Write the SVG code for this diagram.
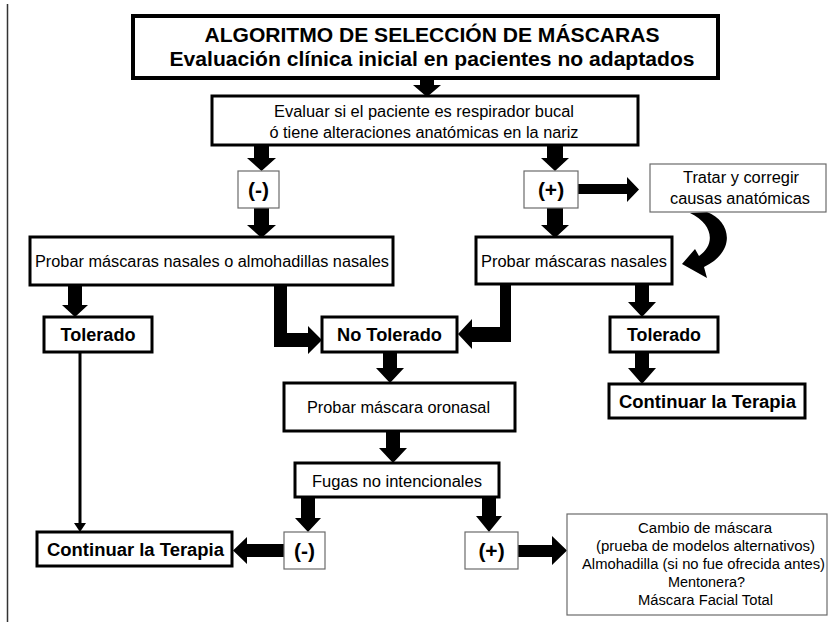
<svg xmlns="http://www.w3.org/2000/svg" width="828" height="632" viewBox="0 0 828 632">
<style>
.bg{fill:#fff}
.thick{fill:#fff;stroke:#000;stroke-width:3}
.thin{fill:#fff;stroke:#6b6b6b;stroke-width:1.2}
.t{font-family:"Liberation Sans",Arial,sans-serif;fill:#000;text-anchor:middle}
.r{font-size:16px}
.s{font-size:14px}
.b{font-weight:bold;font-size:18px}
.p{font-weight:bold;font-size:21px}
.arr{fill:#000;stroke:none}
</style>
<rect class="bg" x="0" y="0" width="828" height="632"/>
<line x1="7.5" y1="4" x2="7.5" y2="622" stroke="#333" stroke-width="1.5"/>

<g id="connectors">
<path class="arr" d="M420 78 L434 78 L434 85 L441 85 L427 97 L413 85 L420 85 Z"/>
<path class="arr" d="M254 146 L269 146 L269 158 L276 158 L261.5 171 L247 158 L254 158 Z"/>
<path class="arr" d="M547 146 L563 146 L563 158 L569 158 L555 171 L541 158 L547 158 Z"/>
<path class="arr" d="M578 184 L627 184 L627 177 L639 189.5 L627 202 L627 194 L578 194 Z"/>
<path class="arr" d="M254 208 L269 208 L269 225 L276 225 L261.5 238 L247 225 L254 225 Z"/>
<path class="arr" d="M547 208 L563 208 L563 225 L569 225 L555 238 L541 225 L547 225 Z"/>
<path class="arr" d="M690 213 L707 212 C731 221 737 251 704 267 L707 278 L682 264 L695 249 L699 256 C716 244 713 224 690 213 Z"/>
<path class="arr" d="M68 286 L82 286 L82 305 L88 305 L75 317 L62 305 L68 305 Z"/>
<path class="arr" d="M274 286 L287 286 L287 333 L308 333 L308 326 L322 340 L308 354 L308 347 L274 347 Z"/>
<path class="arr" d="M500 285 L511 285 L511 342 L472 342 L472 349 L458 334 L472 319 L472 327 L500 327 Z"/>
<path class="arr" d="M635 285 L649 285 L649 302 L656 302 L642 317 L628 302 L635 302 Z"/>
<path class="arr" d="M635 352 L649 352 L649 368 L656 368 L642 384 L628 368 L635 368 Z"/>
<path class="arr" d="M383 352 L397 352 L397 368 L404 368 L390 383 L376 368 L383 368 Z"/>
<path class="arr" d="M386 431 L400 431 L400 448 L407 448 L393 463 L379 448 L386 448 Z"/>
<path class="arr" d="M301 497 L315 497 L315 518 L321 518 L308 532 L295 518 L301 518 Z"/>
<path class="arr" d="M482 497 L496 497 L496 516 L502 516 L489 532 L476 516 L482 516 Z"/>
<path class="arr" d="M284 544 L247 544 L247 537 L233 550.5 L247 564 L247 557 L284 557 Z"/>
<path class="arr" d="M518 545 L552 545 L552 536 L567 550.5 L552 565 L552 557 L518 557 Z"/>
<line x1="80" y1="352" x2="80" y2="526" stroke="#000" stroke-width="3"/>
<path class="arr" d="M74 523 L86 523 L80 532 Z"/>
</g>

<g id="title">
<rect x="133" y="16" width="585" height="62" fill="#fff" stroke="#000" stroke-width="4"/>
<text class="t p" x="432" y="42" textLength="455" lengthAdjust="spacingAndGlyphs">ALGORITMO DE SELECCIÓN DE MÁSCARAS</text>
<text class="t p" x="432" y="66" textLength="525" lengthAdjust="spacingAndGlyphs">Evaluación clínica inicial en pacientes no adaptados</text>
</g>

<g id="evaluar">
<rect class="thick" x="212" y="96" width="426" height="49"/>
<text class="t r" x="424" y="117" textLength="300" lengthAdjust="spacingAndGlyphs">Evaluar si el paciente es respirador bucal</text>
<text class="t r" x="424" y="138" textLength="309" lengthAdjust="spacingAndGlyphs">ó tiene alteraciones anatómicas en la nariz</text>
</g>

<g id="neg1">
<rect class="thin" x="238" y="171" width="41" height="37"/>
<text class="t p" x="258.5" y="197">(-)</text>
</g>

<g id="pos1">
<rect class="thin" x="524" y="171" width="54" height="37"/>
<text class="t p" x="551" y="197">(+)</text>
</g>

<g id="tratar">
<rect class="thin" x="650" y="164" width="176" height="48"/>
<text class="t r" x="741" y="183" textLength="116" lengthAdjust="spacingAndGlyphs">Tratar y corregir</text>
<text class="t r" x="740" y="204" textLength="140" lengthAdjust="spacingAndGlyphs">causas anatómicas</text>
</g>

<g id="probar-nasales-almohadillas">
<rect class="thick" x="30" y="237" width="363" height="48"/>
<text class="t r" x="212" y="267" textLength="354" lengthAdjust="spacingAndGlyphs">Probar máscaras nasales o almohadillas nasales</text>
</g>

<g id="probar-nasales">
<rect class="thick" x="476" y="237" width="196" height="47"/>
<text class="t r" x="574" y="267" textLength="186" lengthAdjust="spacingAndGlyphs">Probar máscaras nasales</text>
</g>

<g id="tolerado-izq">
<rect class="thick" x="44" y="317" width="108" height="35"/>
<text class="t b" x="98" y="341" textLength="75" lengthAdjust="spacingAndGlyphs">Tolerado</text>
</g>

<g id="no-tolerado">
<rect class="thick" x="322" y="317" width="135" height="35"/>
<text class="t b" x="389.5" y="341" textLength="105" lengthAdjust="spacingAndGlyphs">No Tolerado</text>
</g>

<g id="tolerado-der">
<rect class="thick" x="610" y="317" width="108" height="35"/>
<text class="t b" x="664" y="341" textLength="74" lengthAdjust="spacingAndGlyphs">Tolerado</text>
</g>

<g id="continuar-der">
<rect class="thick" x="609" y="384" width="196" height="34"/>
<text class="t b" x="707.5" y="408" textLength="177" lengthAdjust="spacingAndGlyphs">Continuar la Terapia</text>
</g>

<g id="oronasal">
<rect class="thick" x="284" y="383" width="231" height="48"/>
<text class="t r" x="398.5" y="413" textLength="183" lengthAdjust="spacingAndGlyphs">Probar máscara oronasal</text>
</g>

<g id="fugas">
<rect class="thick" x="295" y="463" width="204" height="34"/>
<text class="t r" x="397" y="487" textLength="170" lengthAdjust="spacingAndGlyphs">Fugas no intencionales</text>
</g>

<g id="continuar-izq">
<rect class="thick" x="37" y="532" width="195" height="34"/>
<text class="t b" x="135.5" y="556" textLength="177" lengthAdjust="spacingAndGlyphs">Continuar la Terapia</text>
</g>

<g id="neg2">
<rect class="thin" x="284" y="532" width="41" height="37"/>
<text class="t p" x="304.5" y="558">(-)</text>
</g>

<g id="pos2">
<rect class="thin" x="465" y="532" width="53" height="37"/>
<text class="t p" x="491.5" y="558">(+)</text>
</g>

<g id="cambio">
<rect class="thin" x="567" y="514" width="260" height="101"/>
<text class="t s" x="705" y="533" textLength="134" lengthAdjust="spacingAndGlyphs">Cambio de máscara</text>
<text class="t s" x="705.5" y="551" textLength="219" lengthAdjust="spacingAndGlyphs">(prueba de modelos alternativos)</text>
<text class="t s" x="703.5" y="569" textLength="243" lengthAdjust="spacingAndGlyphs">Almohadilla (si no fue ofrecida antes)</text>
<text class="t s" x="706.5" y="587" textLength="77" lengthAdjust="spacingAndGlyphs">Mentonera?</text>
<text class="t s" x="705.5" y="605" textLength="135" lengthAdjust="spacingAndGlyphs">Máscara Facial Total</text>
</g>
</svg>
